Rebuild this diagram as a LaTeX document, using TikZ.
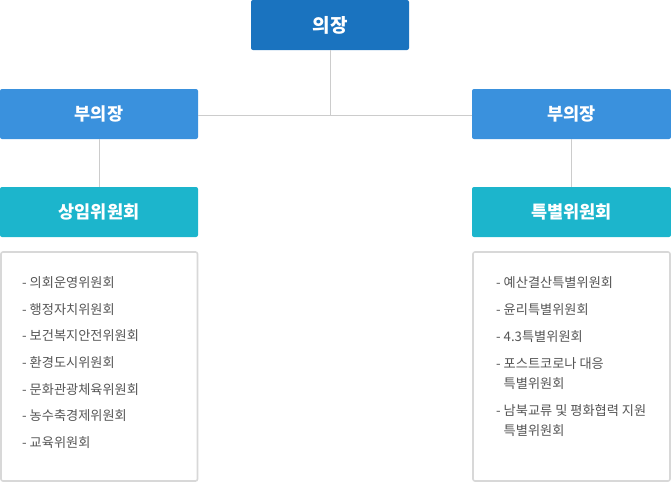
\documentclass[tikz,border=0pt]{standalone}
\usepackage{fontspec}
\setmainfont{Noto Sans CJK KR}
\begin{document}
\begin{tikzpicture}[x=1pt,y=-1pt,
  hbox/.style={rounded corners=2pt,inner sep=0pt,text=white,font=\fontsize{17.5}{20}\selectfont\bfseries},
  chair/.style={hbox,fill=chairblue},
  vice/.style={hbox,fill=viceblue},
  comm/.style={hbox,fill=commteal},
  listbox/.style={draw=listgray,line width=1.6pt,rounded corners=2pt,fill=white},
  item/.style={anchor=west,inner sep=0pt,text=itemgray,font=\fontsize{13.2}{19.5}\selectfont,align=left},
  conn/.style={draw=linegray,line width=1pt}]
\definecolor{chairblue}{HTML}{1A73BF}
\definecolor{viceblue}{HTML}{3A91DD}
\definecolor{commteal}{HTML}{1CB5CC}
\definecolor{listgray}{HTML}{D8D8D8}
\definecolor{itemgray}{HTML}{555555}
\definecolor{linegray}{HTML}{CCCCCC}
\useasboundingbox (0,0) rectangle (671,482);
% boxes
\path[chair] (251,0) rectangle (409,50);
\node[hbox,font=\fontsize{19}{21}\selectfont\bfseries] (chair) at (330,25) {의장};
\path[vice] (0,89) rectangle (198,139);
\node[hbox] (vl) at (99,114) {부의장};
\path[vice] (472,89) rectangle (671,139);
\node[hbox] (vr) at (571.5,114) {부의장};
\path[comm] (0,187) rectangle (198,237);
\node[hbox] (cl) at (99,212) {상임위원회};
\path[comm] (472,187) rectangle (671,237);
\node[hbox] (cr) at (571.5,212) {특별위원회};
\coordinate (chairB) at (330,50);
\coordinate (junc) at (330,115);
\coordinate (vlR) at (198,115);
\coordinate (vrL) at (472,115);
\coordinate (vlB) at (99,139);
\coordinate (clT) at (99,187);
\coordinate (vrB) at (571.5,139);
\coordinate (crT) at (571.5,187);
\draw[conn] (chairB) -- (junc);
\draw[conn] (vlR) -- (vrL);
\draw[conn] (vlB) -- (clT);
\draw[conn] (vrB) -- (crT);
% lists
\draw[listbox] (1,252) rectangle (197.5,481);
\draw[listbox] (473,252) rectangle (670,481);
\node[item] (l1) at (22,282.5) {- 의회운영위원회};
\node[item] (l2) at (22,309.2) {- 행정자치위원회};
\node[item] (l3) at (22,335.9) {- 보건복지안전위원회};
\node[item] (l4) at (22,362.6) {- 환경도시위원회};
\node[item] (l5) at (22,389.3) {- 문화관광체육위원회};
\node[item] (l6) at (22,416) {- 농수축경제위원회};
\node[item] (l7) at (22,442.7) {- 교육위원회};
\node[item] (r1) at (496,283) {- 예산결산특별위원회};
\node[item] (r2) at (496,309.7) {- 윤리특별위원회};
\node[item] (r3) at (496,336.4) {- 4.3특별위원회};
\node[item] (r4) at (496,373.5) {- 포스트코로나 대응\\\phantom{- }특별위원회};
\node[item] (r5) at (496,420.5) {- 남북교류 및 평화협력 지원\\\phantom{- }특별위원회};
\end{tikzpicture}
\end{document}
